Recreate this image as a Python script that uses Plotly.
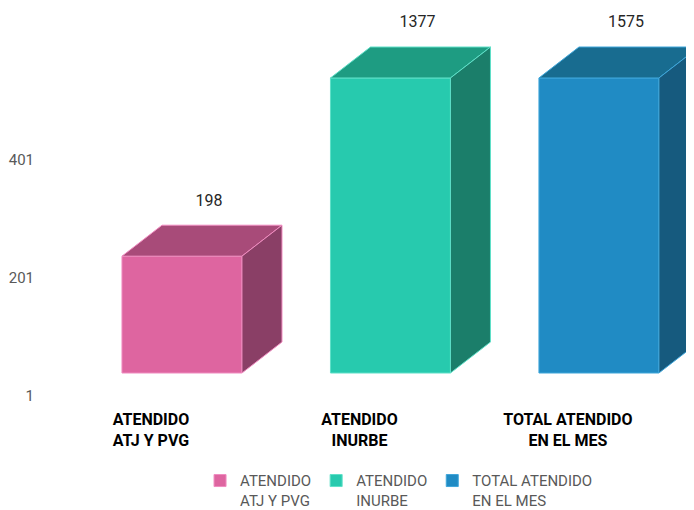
import plotly.graph_objects as go

# ---- data ----
categories = ["ATENDIDO<br>ATJ Y PVG", "ATENDIDO<br>INURBE", "TOTAL ATENDIDO<br>EN EL MES"]
series_names = ["ATENDIDO<br>ATJ Y PVG", "ATENDIDO<br>INURBE", "TOTAL ATENDIDO<br>EN EL MES"]
values = [198, 1377, 1575]
y_ticks = [1, 201, 401]
y_tick_labels = ["1", "201", "401"]

# ---- style ----
front_colors = ["#DE65A0", "#27CAAE", "#208BC4"]
top_colors = ["#A84B79", "#1E9C82", "#186C90"]
side_colors = ["#8A3F66", "#1B7E6A", "#165A7E"]
edge_colors = ["#F08CC0", "#5EE0C8", "#3FA6DA"]

AXIS_CAP = 500          # visible top of the value axis (front plane)
BAR_W = 0.5755          # front face width in category units
DX = 0.192              # depth offset along x (category units)
DY = 52.5               # depth offset along y (value units)

fig = go.Figure()

for i, (cat, name, v) in enumerate(zip(categories, series_names, values)):
    h = min(v, AXIS_CAP)
    w = BAR_W / 2
    # front face
    fig.add_trace(go.Bar(
        x=[i], y=[h], width=BAR_W, name=name,
        marker=dict(color=front_colors[i], line=dict(color=edge_colors[i], width=1)),
        hoverinfo="skip", showlegend=True,
    ))
    # top face
    fig.add_trace(go.Scatter(
        x=[i - w, i + w, i + w + DX, i - w + DX, i - w],
        y=[h, h, h + DY, h + DY, h],
        fill="toself", fillcolor=top_colors[i], mode="lines",
        line=dict(color=edge_colors[i], width=1), showlegend=False, hoverinfo="skip",
    ))
    # side face
    fig.add_trace(go.Scatter(
        x=[i + w, i + w + DX, i + w + DX, i + w, i + w],
        y=[0, DY, h + DY, h, 0],
        fill="toself", fillcolor=side_colors[i], mode="lines",
        line=dict(color=edge_colors[i], width=1), showlegend=False, hoverinfo="skip",
    ))

# data labels
fig.add_trace(go.Scatter(
    x=[i + 0.13 for i in range(len(values))],
    y=[min(v, AXIS_CAP) + DY + 40 for v in values],
    text=[str(v) for v in values], mode="text",
    textfont=dict(size=16, color="#262626", family="Roboto"),
    cliponaxis=False, showlegend=False, hoverinfo="skip",
))

fig.update_layout(
    width=686, height=502,
    margin=dict(l=32, r=0, t=0, b=114, autoexpand=False),
    plot_bgcolor="white", paper_bgcolor="white",
    font=dict(family="Roboto", color="#595959"),
    barmode="overlay",
    xaxis=dict(
        range=[-0.681, 2.456], tickvals=list(range(len(categories))), ticktext=categories,
        showgrid=False, zeroline=False, showline=False, ticks="", automargin=False,
        tickfont=dict(size=16, color="#000000", family="Roboto", weight="bold"),
        ticklabelshift=-31, ticklabelstandoff=12,
    ),
    yaxis=dict(
        range=[-38.98, 618.6], tickvals=y_ticks, ticktext=y_tick_labels,
        showgrid=False, zeroline=False, showline=False, ticks="", automargin=False,
        tickfont=dict(size=15, color="#595959"),
        ticklabelshift=23, ticklabelstandoff=5,
    ),
    legend=dict(
        orientation="h", x=0.549, xanchor="center", y=-0.176, yanchor="top",
        font=dict(size=15, color="#595959"), itemwidth=30, valign="top",
    ),
)

fig.write_html("out.html")
